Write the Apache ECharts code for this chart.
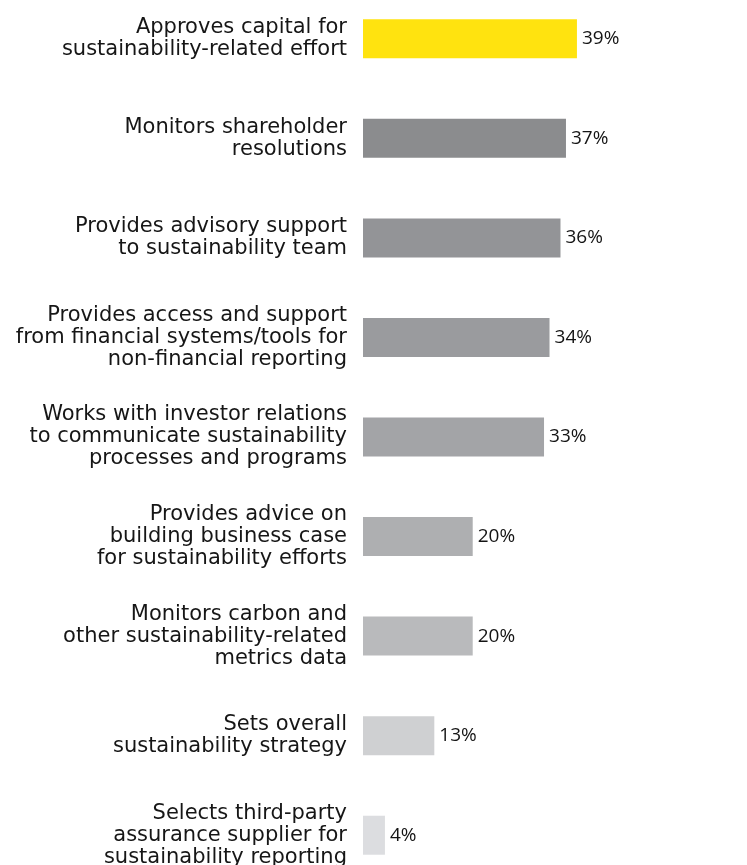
<!DOCTYPE html>
<html>
<head>
<meta charset="utf-8">
<script src="https://cdn.jsdelivr.net/npm/echarts@6/dist/echarts.min.js"></script>
<style>
  html, body { margin: 0; padding: 0; background: #ffffff; }
  #chart { width: 747px; height: 865px; }
</style>
</head>
<body>
<div id="chart"></div>
<script>
// Finance function roles in sustainability, share of respondents (%)
const categories = [
  'Approves capital for\nsustainability-related effort',
  'Monitors shareholder\nresolutions',
  'Provides advisory support\nto sustainability team',
  'Provides access and support\nfrom financial systems/tools for\nnon-financial reporting',
  'Works with investor relations\nto communicate sustainability\nprocesses and programs',
  'Provides advice on\nbuilding business case\nfor sustainability efforts',
  'Monitors carbon and\nother sustainability-related\nmetrics data',
  'Sets overall\nsustainability strategy',
  'Selects third-party\nassurance supplier for\nsustainability reporting'
];
const values = [39, 37, 36, 34, 33, 20, 20, 13, 4];

// Highlight colour for the top answer, then a fading grey ramp
const barColors = ['#ffe30f', '#8b8c8e', '#939497', '#9a9b9e', '#a3a4a7', '#aeafb1', '#b9babc', '#cfd0d2', '#dcdde0'];

const LABEL_FONT = '"DejaVu Sans", "Open Sans", sans-serif';
const VALUE_FONT = '"Open Sans", "Liberation Sans", sans-serif';

const chart = echarts.init(document.getElementById('chart'), null, { renderer: 'canvas' });
chart.setOption({
  backgroundColor: '#ffffff',
  animation: false,
  grid: {
    left: 363, right: 0, top: -11, height: 896,
    containLabel: false,
    outerBoundsMode: 'none'
  },
  xAxis: {
    type: 'value', min: 0, max: 70,
    show: false
  },
  yAxis: {
    type: 'category',
    data: categories,
    inverse: true,
    axisLine: { show: false },
    axisTick: { show: false },
    splitLine: { show: false },
    axisLabel: {
      margin: 16,
      align: 'right',
      color: '#161616',
      fontFamily: LABEL_FONT,
      fontSize: 21,
      lineHeight: 22
    }
  },
  series: [{
    type: 'bar',
    barWidth: 39,
    data: values.map((v, i) => ({ value: v, itemStyle: { color: barColors[i] } })),
    label: {
      show: true,
      position: 'right',
      distance: 5,
      formatter: '{c}%',
      color: '#141414',
      fontFamily: VALUE_FONT,
      fontSize: 19
    }
  }]
});
</script>
</body>
</html>
